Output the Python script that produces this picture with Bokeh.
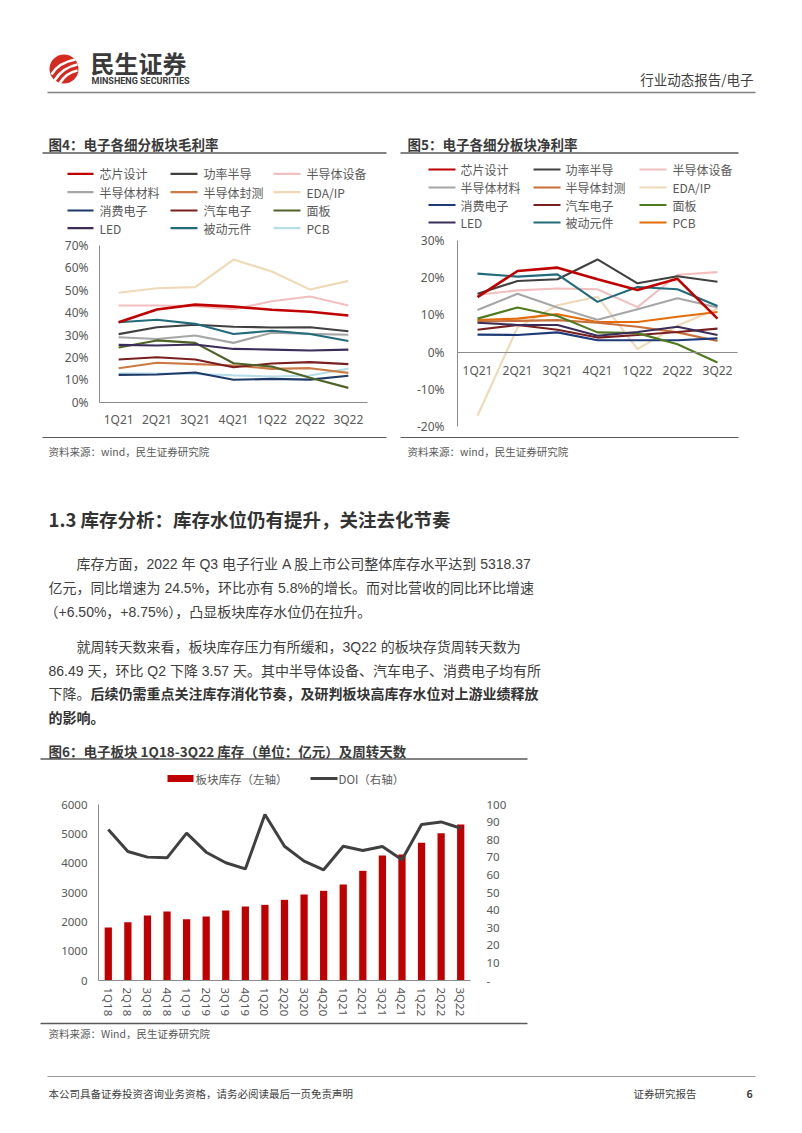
from bokeh.plotting import figure
from bokeh.models import (Range1d, LinearAxis, FixedTicker, PrintfTickFormatter,
                          ColumnDataSource)
from bokeh.core.properties import value
from bokeh.embed import file_html
from bokeh.resources import INLINE

W, H = 802, 1133
CJK = "Noto Sans CJK SC"
MIX = "Liberation Sans, Noto Sans CJK SC"
LAT = "Noto Sans"

# ------------------------------------------------------------------ data
quarters_21 = ["1Q21", "2Q21", "3Q21", "4Q21", "1Q22", "2Q22", "3Q22"]
segment_names = ["芯片设计", "功率半导", "半导体设备", "半导体材料", "半导体封测", "EDA/IP",
                 "消费电子", "汽车电子", "面板", "LED", "被动元件", "PCB"]

# 图4 毛利率 (%)
gm_chip_design = [35.7, 41.4, 43.6, 42.7, 41.3, 40.4, 38.7]
gm_power = [30.4, 33.5, 34.6, 33.7, 33.4, 33.5, 31.7]
gm_equipment = [43.2, 43.2, 42.9, 41.5, 45.1, 47.2, 43.2]
gm_materials = [29.0, 28.2, 29.8, 26.5, 31.0, 30.5, 30.1]
gm_packaging = [15.2, 17.6, 17.0, 16.4, 14.9, 15.2, 13.1]
gm_eda_ip = [48.9, 50.9, 51.4, 63.7, 58.4, 50.3, 54.2]
gm_consumer = [12.2, 12.4, 13.3, 10.0, 10.4, 10.1, 11.8]
gm_auto = [19.1, 20.1, 19.1, 15.6, 17.3, 17.9, 17.0]
gm_panel = [24.4, 27.6, 26.5, 17.4, 15.9, 10.9, 6.4]
gm_led = [25.6, 25.3, 25.8, 23.8, 23.5, 23.1, 23.5]
gm_passive = [35.7, 36.8, 35.0, 30.5, 31.9, 30.5, 27.3]
gm_pcb = [12.8, 12.8, 12.6, 12.0, 11.5, 11.9, 15.0]

# 图5 净利率 (%)
nm_chip_design = [14.8, 21.8, 22.7, 19.6, 16.7, 19.7, 9.0]
nm_power = [15.7, 19.1, 19.6, 24.9, 18.5, 20.4, 18.9]
nm_equipment = [15.4, 16.6, 17.1, 16.9, 12.1, 20.8, 21.5]
nm_materials = [11.3, 15.7, 12.0, 8.7, 11.5, 14.5, 12.0]
nm_packaging = [8.2, 8.4, 8.6, 7.9, 6.8, 5.3, 3.0]
nm_eda_ip = [-17.1, 6.6, 12.6, 14.9, 0.8, 7.1, 11.7]
nm_consumer = [4.7, 4.6, 5.3, 3.2, 3.2, 3.2, 3.7]
nm_auto = [6.0, 7.3, 6.0, 3.9, 4.6, 5.4, 6.3]
nm_panel = [9.0, 12.0, 9.7, 5.3, 5.1, 2.1, -2.8]
nm_led = [7.9, 7.3, 7.3, 4.4, 5.4, 6.8, 4.6]
nm_passive = [21.1, 20.3, 20.9, 13.5, 17.5, 16.9, 12.4]
nm_pcb = [8.6, 9.0, 10.2, 8.1, 8.1, 9.5, 10.8]

gm_colors = ["#C00000", "#404040", "#F2BFBF", "#A6A6A6", "#CC7A45", "#EFD9B6",
             "#1F3A68", "#7A1F1F", "#4F6228", "#3B2D5A", "#216B7A", "#B7DEE8"]
nm_colors = ["#C00000", "#404040", "#F2BFBF", "#A6A6A6", "#C8703C", "#EFD9B6",
             "#1F3A78", "#7A1F1F", "#4F7A1F", "#3B2D5A", "#216B7A", "#E46C0A"]

# 图6 库存与周转天数
quarters_18 = ["1Q18", "2Q18", "3Q18", "4Q18", "1Q19", "2Q19", "3Q19", "4Q19",
               "1Q20", "2Q20", "3Q20", "4Q20", "1Q21", "2Q21", "3Q21", "4Q21",
               "1Q22", "2Q22", "3Q22"]
inventory = [1807, 1989, 2216, 2352, 2091, 2182, 2386, 2523, 2580, 2750, 2932,
             3057, 3273, 3739, 4261, 4295, 4693, 5023, 5318]
doi_days = [85.8, 73.3, 70.1, 69.7, 83.7, 72.9, 66.9, 63.4, 94.3, 76.3, 67.8,
            62.9, 76.3, 73.9, 76.1, 68.6, 88.6, 90.1, 86.5]

gm_ticks = [0, 10, 20, 30, 40, 50, 60, 70]
nm_ticks = [-20, -10, 0, 10, 20, 30]
inv_ticks = [0, 1000, 2000, 3000, 4000, 5000, 6000]
doi_ticks = [0, 10, 20, 30, 40, 50, 60, 70, 80, 90, 100]

body_lines = [
    "库存方面，2022 年 Q3 电子行业 A 股上市公司整体库存水平达到 5318.37",
    "亿元，同比增速为 24.5%，环比亦有 5.8%的增长。而对比营收的同比环比增速",
    "（+6.50%，+8.75%），凸显板块库存水位仍在拉升。",
    "就周转天数来看，板块库存压力有所缓和，3Q22 的板块存货周转天数为",
    "86.49 天，环比 Q2 下降 3.57 天。其中半导体设备、汽车电子、消费电子均有所",
]
bold_tail = "后续仍需重点关注库存消化节奏，及研判板块高库存水位对上游业绩释放"

# ------------------------------------------------------------------ page figure
p = figure(width=W, height=H, x_range=Range1d(0, W), y_range=Range1d(H, 0),
           x_axis_type=None, y_axis_type=None, toolbar_location=None,
           output_backend="svg", min_border=0, outline_line_color=None,
           background_fill_color="white", border_fill_color="white")


def txt(x, y, s, size, color="#404040", bold=False, align="left", font=CJK):
    p.text(x=[x], y=[y], text=[s], text_font=value(font), text_font_size=f"{size}px",
           text_color=color, text_font_style="bold" if bold else "normal",
           text_align=align, text_baseline="middle")


def hline(x0, x1, y, color="#7F7F7F", w=1.0):
    p.segment(x0=[x0], y0=[y], x1=[x1], y1=[y], line_color=color, line_width=w)


def make_ranges(xkey, ykey, n, ax_left, ax_right, v_top, py_top, v_bot, py_bot):
    if xkey is not None:
        ppu = (ax_right - ax_left) / n
        xs = -0.5 - ax_left / ppu
        p.extra_x_ranges[xkey] = Range1d(xs, xs + W / ppu)
    vpp = (v_top - v_bot) / (py_bot - py_top)
    p.extra_y_ranges[ykey] = Range1d(v_bot - (H - py_bot) * vpp, v_bot + py_bot * vpp)


def style_axis(ax, standoff, line_color="#8C8C8C", size="12px"):
    ax.major_tick_line_color = None
    ax.minor_tick_line_color = None
    ax.major_tick_out = 0
    ax.major_tick_in = 0
    ax.minor_tick_out = 0
    ax.minor_tick_in = 0
    ax.axis_line_color = line_color
    ax.axis_line_width = 1
    ax.major_label_standoff = standoff
    ax.major_label_text_font_size = size
    ax.major_label_text_color = "#595959"
    ax.major_label_text_font = LAT


# ------------------------------------------------------------------ header
p.circle(x=[63.5], y=[68.5], radius=14.5, fill_color="#D42A20", line_color=None)
for (x0, y0, cx, cy, x1, y1) in [(51, 74, 58, 62, 75, 59), (54, 80, 62, 67, 77, 64),
                                 (59, 83, 66, 72, 77, 70)]:
    p.quadratic(x0=[x0], y0=[y0], cx=[cx], cy=[cy], x1=[x1], y1=[y1],
                line_color="white", line_width=2.6)
txt(90, 62, "民生证券", 24, "#3A3A3A", bold=True)
txt(91, 80.5, "MINSHENG SECURITIES", 9, "#3A3A3A", bold=True, font="Roboto")
txt(753, 78, "行业动态报告/电子", 13.5, "#404040", align="right")
hline(47, 755, 92, "#808080", 1.5)

# ------------------------------------------------------------------ fig 4 / fig 5 headers & legends
txt(48, 143, "图4：电子各细分板块毛利率", 13.5, "#3A3A3A", bold=True)
hline(42, 386, 152.5, "#595959", 1.5)
txt(407, 143, "图5：电子各细分板块净利率", 13.5, "#3A3A3A", bold=True)
hline(400, 738, 152.5, "#595959", 1.5)


def draw_legend(names, colors, line_x, text_x, row_y):
    for k, (nm, c) in enumerate(zip(names, colors)):
        r, ci = divmod(k, 3)
        x0, x1 = line_x[ci]
        p.segment(x0=[x0], y0=[row_y[r]], x1=[x1], y1=[row_y[r]], line_color=c, line_width=2.2)
        txt(text_x[ci], row_y[r], nm, 12, "#595959")


draw_legend(segment_names, gm_colors, [(67, 93), (170, 197), (273, 300)], [99, 203, 306],
            [173.3, 191.7, 210, 227.7])
draw_legend(segment_names, nm_colors, [(428, 455), (533, 560), (639, 666)], [460, 565, 672],
            [169, 187, 204.5, 222])

# ------------------------------------------------------------------ fig 4 chart
make_ranges("f4x", "f4y", 7, 99, 367, 70, 245, 0, 401.7)
src4 = ColumnDataSource(dict(i=list(range(7)), chip=gm_chip_design, power=gm_power,
                             equip=gm_equipment, mat=gm_materials, pack=gm_packaging,
                             eda=gm_eda_ip, cons=gm_consumer, auto=gm_auto, panel=gm_panel,
                             led=gm_led, passive=gm_passive, pcb=gm_pcb))
keys = ["chip", "power", "equip", "mat", "pack", "eda", "cons", "auto", "panel", "led", "passive", "pcb"]
order = [5, 11, 2, 3, 4, 6, 7, 8, 9, 1, 10, 0]
for k in order:
    p.line(x="i", y=keys[k], source=src4, x_range_name="f4x", y_range_name="f4y",
           line_color=gm_colors[k], line_width=2.6 if k == 0 else 2.1)

ax = LinearAxis(y_range_name="f4y", fixed_location=99, bounds=(0, 70),
                ticker=FixedTicker(ticks=gm_ticks), formatter=PrintfTickFormatter(format="%d%%"))
style_axis(ax, 11)
p.add_layout(ax, "left")
ax = LinearAxis(x_range_name="f4x", y_range_name="f4y", fixed_location=0, bounds=(-0.5, 6.5),
                ticker=FixedTicker(ticks=list(range(7))),
                major_label_overrides={i: q for i, q in enumerate(quarters_21)})
style_axis(ax, 9)
p.add_layout(ax, "below")

hline(42, 386, 437, "#595959", 1.0)
txt(48, 451, "资料来源：wind，民生证券研究院", 10.5, "#595959")

# ------------------------------------------------------------------ fig 5 chart
make_ranges("f5x", "f5y", 7, 457, 737, 30, 240, -20, 426)
src5 = ColumnDataSource(dict(i=list(range(7)), chip=nm_chip_design, power=nm_power,
                             equip=nm_equipment, mat=nm_materials, pack=nm_packaging,
                             eda=nm_eda_ip, cons=nm_consumer, auto=nm_auto, panel=nm_panel,
                             led=nm_led, passive=nm_passive, pcb=nm_pcb))
for k in order:
    p.line(x="i", y=keys[k], source=src5, x_range_name="f5x", y_range_name="f5y",
           line_color=nm_colors[k], line_width=2.6 if k == 0 else 2.1)

ax = LinearAxis(y_range_name="f5y", fixed_location=457, bounds=(-20, 30),
                ticker=FixedTicker(ticks=nm_ticks), formatter=PrintfTickFormatter(format="%d%%"))
style_axis(ax, 13)
p.add_layout(ax, "left")
ax = LinearAxis(x_range_name="f5x", y_range_name="f5y", fixed_location=0, bounds=(-0.5, 6.5),
                ticker=FixedTicker(ticks=list(range(7))),
                major_label_overrides={i: q for i, q in enumerate(quarters_21)})
style_axis(ax, 10)
p.add_layout(ax, "below")

hline(400, 738, 437, "#595959", 1.0)
txt(407, 451, "资料来源：wind，民生证券研究院", 10.5, "#595959")

# ------------------------------------------------------------------ section text
txt(48, 518, "1.3 库存分析：库存水位仍有提升，关注去化节奏", 18.5, "#333333", bold=True)
body_y = [563, 587.5, 611.5, 646.5, 670]
body_x = [76, 48, 44, 76, 48]
for s, x, y in zip(body_lines, body_x, body_y):
    txt(x, y, s, 14, "#404040", font=MIX)
txt(48, 693.5, "下降。", 14, "#404040", font=MIX)
txt(90, 693.5, bold_tail, 14, "#333333", bold=True, font=MIX)
txt(48, 717, "的影响。", 14, "#333333", bold=True, font=MIX)

# ------------------------------------------------------------------ fig 6
txt(48, 750, "图6：电子板块 1Q18-3Q22 库存（单位：亿元）及周转天数", 13.5, "#3A3A3A", bold=True)
hline(40, 527, 758.5, "#595959", 1.5)
p.rect(x=[180], y=[778], width=26, height=7, fill_color="#C00000", line_color=None)
txt(195, 778, "板块库存（左轴）", 11.5, "#595959")
p.segment(x0=[310], y0=[778], x1=[337], y1=[778], line_color="#404040", line_width=3)
txt(338, 778, "DOI（右轴）", 11.5, "#595959")

make_ranges("f6x", "f6y", 19, 98, 470, 6000, 804, 0, 980)
make_ranges(None, "f6r", 19, 98, 470, 100, 804, 0, 980)
src6 = ColumnDataSource(dict(i=list(range(19)), inv=inventory, doi=doi_days))
p.vbar(x="i", top="inv", bottom=0, width=0.37, source=src6, x_range_name="f6x",
       y_range_name="f6y", fill_color="#C00000", line_color=None)
p.line(x="i", y="doi", source=src6, x_range_name="f6x", y_range_name="f6r",
       line_color="#404040", line_width=3)

ax = LinearAxis(y_range_name="f6y", fixed_location=98, bounds=(0, 6000),
                ticker=FixedTicker(ticks=inv_ticks))
style_axis(ax, 11, size="11.5px")
p.add_layout(ax, "left")
ax = LinearAxis(y_range_name="f6r", fixed_location=470, bounds=(0, 100),
                ticker=FixedTicker(ticks=doi_ticks), major_label_overrides={0: "-"})
style_axis(ax, 16, line_color=None, size="11.5px")
p.add_layout(ax, "right")
ax = LinearAxis(x_range_name="f6x", y_range_name="f6y", fixed_location=0, bounds=(-0.5, 18.5),
                ticker=FixedTicker(ticks=list(range(19))),
                major_label_overrides={i: q for i, q in enumerate(quarters_18)},
                major_label_orientation="vertical")
style_axis(ax, 7, size="11.5px")
p.add_layout(ax, "below")

hline(40, 527, 1023, "#595959", 1.5)
txt(48, 1033, "资料来源：Wind，民生证券研究院", 10.5, "#595959")

# ------------------------------------------------------------------ footer
hline(47, 755, 1076, "#9A9A9A", 1.2)
txt(48, 1093, "本公司具备证券投资咨询业务资格，请务必阅读最后一页免责声明", 10.5, "#404040")
txt(633, 1093, "证券研究报告", 10.5, "#404040")
txt(746, 1093, "6", 10.5, "#404040", bold=True)

open("out.html", "w").write(file_html(p, INLINE))
